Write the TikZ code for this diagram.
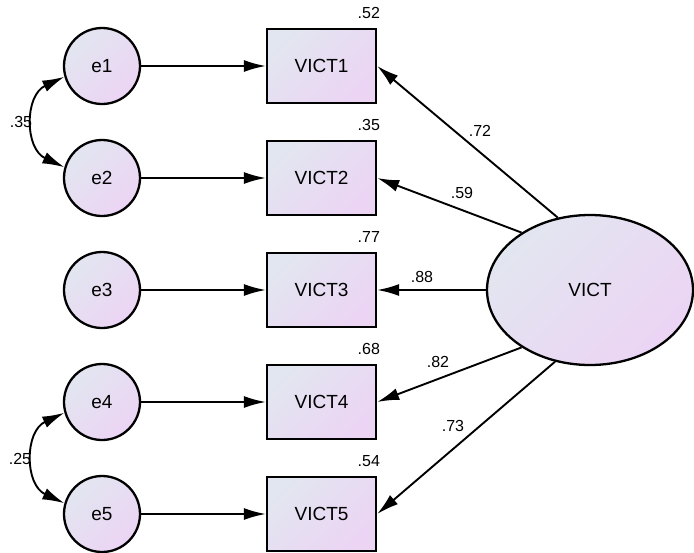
\documentclass[tikz,border=0pt]{standalone}
\usepackage{fontspec}
\setmainfont{Liberation Sans}
\usetikzlibrary{arrows.meta,shapes.geometric}
\definecolor{shadeA}{RGB}{226,230,240}
\definecolor{shadeB}{RGB}{236,212,244}

\begin{document}
\begin{tikzpicture}[x=1pt,y=-1pt,
	every node/.style={font=\fontsize{19}{19}\selectfont},
	lbl/.style={font=\fontsize{16}{16}\selectfont, inner sep=0pt},
	fillshade/.style={draw, line width=2.3pt, left color=shadeA, right color=shadeB, shading angle=45},
	err/.style={circle, fillshade, minimum size=76pt, inner sep=0pt},
	obs/.style={rectangle, fillshade, minimum width=109pt, minimum height=74pt},
	lat/.style={ellipse, fillshade, minimum width=206pt, minimum height=150pt},
	conn/.style={line width=1.9pt, -{Latex[length=22pt,width=12pt]}},
	cov/.style={line width=1.9pt, {Latex[length=22pt,width=12pt]}-{Latex[length=22pt,width=12pt]}}]
			\useasboundingbox (0,0) rectangle (694,552);
			\node[err] (e1) at (102,66) {e1};
			\node[err] (e2) at (102,178) {e2};
			\node[err] (e3) at (102,290) {e3};
			\node[err] (e4) at (102,402) {e4};
			\node[err] (e5) at (102,514) {e5};
			\node[obs] (v1) at (321.5,66) {VICT1};
			\node[obs] (v2) at (321.5,178) {VICT2};
			\node[obs] (v3) at (321.5,290) {VICT3};
			\node[obs] (v4) at (321.5,402) {VICT4};
			\node[obs] (v5) at (321.5,514) {VICT5};
			\node[lat] (vict) at (590,290) {VICT};
			\draw[conn] (e1) -- (v1);
			\draw[conn] (e2) -- (v2);
			\draw[conn] (e3) -- (v3);
			\draw[conn] (e4) -- (v4);
			\draw[conn] (e5) -- (v5);
			\draw[conn] (vict.114) -- (v1.east);
			\draw[conn] (vict.140) -- (v2.east);
			\draw[conn] (vict.west) -- (v3.east);
			\draw[conn] (vict.220) -- (v4.east);
			\draw[conn] (vict.244) -- (v5.east);
			\draw[cov] (e1.196) to[out=205,in=155,looseness=1.25] (e2.164);
			\draw[cov] (e4.196) to[out=205,in=155,looseness=1.25] (e5.164);
			\node[lbl, anchor=base east, xshift=3pt, yshift=9pt] (r1) at (v1.north east) {.52};
			\node[lbl, anchor=base east, xshift=3pt, yshift=9pt] (r2) at (v2.north east) {.35};
			\node[lbl, anchor=base east, xshift=3pt, yshift=9pt] (r3) at (v3.north east) {.77};
			\node[lbl, anchor=base east, xshift=3pt, yshift=9pt] (r4) at (v4.north east) {.68};
			\node[lbl, anchor=base east, xshift=3pt, yshift=9pt] (r5) at (v5.north east) {.54};
			\node[lbl] (w1) at (480,131) {.72};
			\node[lbl] (w2) at (462,193) {.59};
			\node[lbl] (w3) at (422,277) {.88};
			\node[lbl] (w4) at (438,362) {.82};
			\node[lbl] (w5) at (453,426) {.73};
			\node[lbl] (c12) at (21,122) {.35};
			\node[lbl] (c45) at (20,459) {.25};
		\end{tikzpicture}
\end{document}
